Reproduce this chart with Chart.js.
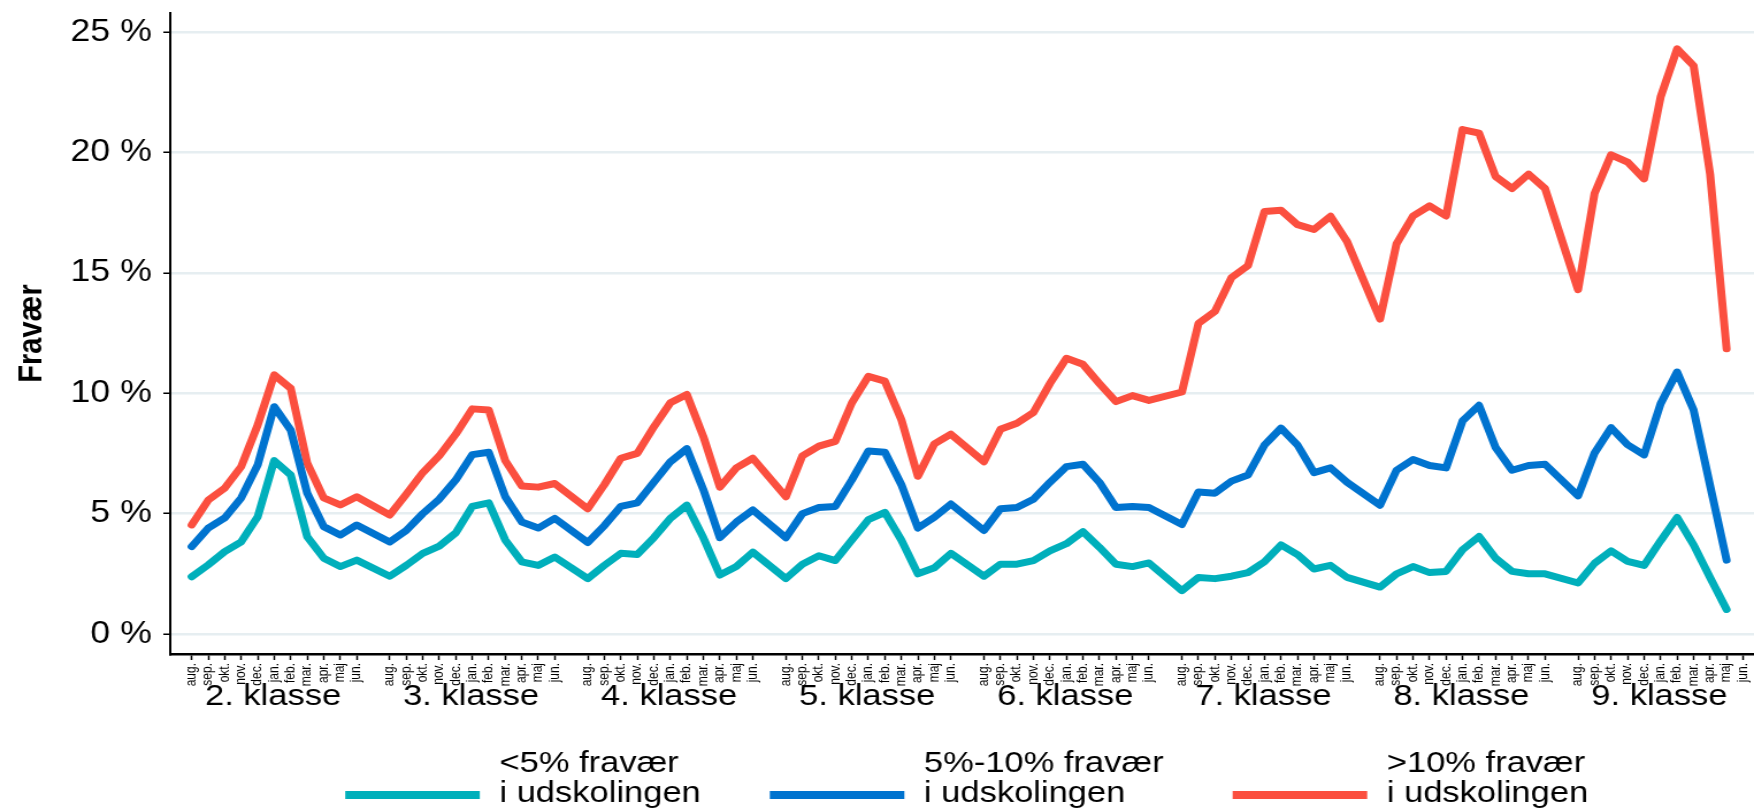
<!DOCTYPE html>
<html>
<head>
<meta charset="utf-8">
<script src="https://cdn.jsdelivr.net/npm/chart.js@4.4.1/dist/chart.umd.min.js"></script>
<style>
  html, body { margin: 0; padding: 0; background: #fff; overflow: hidden; }
  #wrap { position: absolute; left: 0; top: 0; width: 1525px; height: 810px; transform-origin: 0 0; }
  canvas { display: block; }
</style>
</head>
<body>
<div id="wrap"><canvas id="c" width="1525" height="810"></canvas></div>
<script>
// ---- data ----
const months = ['aug.', 'sep.', 'okt.', 'nov.', 'dec.', 'jan.', 'feb.', 'mar.', 'apr.', 'maj', 'jun.'];
const grades = ['2. klasse', '3. klasse', '4. klasse', '5. klasse', '6. klasse', '7. klasse', '8. klasse', '9. klasse'];
const yTicks = [0, 5, 10, 15, 20, 25];
const yTitle = 'Fravær';

const seriesLabels = [
  ['<5% fravær', 'i udskolingen'],
  ['5%-10% fravær', 'i udskolingen'],
  ['>10% fravær', 'i udskolingen']
];
const seriesColors = ['#00afbb', '#0073cf', '#fb4f3f'];

const lowAbsence = [
  2.38, 2.87, 3.42, 3.83, 4.87, 7.2, 6.6, 4.04, 3.15, 2.8, 3.07,
  2.4, 2.85, 3.35, 3.65, 4.2, 5.3, 5.45, 3.9, 3.0, 2.85, 3.2,
  2.3, 2.85, 3.35, 3.3, 4.0, 4.8, 5.35, 4.0, 2.45, 2.8, 3.4,
  2.3, 2.9, 3.25, 3.05, 3.9, 4.75, 5.05, 3.9, 2.5, 2.75, 3.35,
  2.4, 2.9, 2.9, 3.05, 3.45, 3.75, 4.25, 3.6, 2.9, 2.8, 2.95,
  1.8, 2.35, 2.3, 2.4, 2.55, 3.0, 3.7, 3.3, 2.7, 2.85, 2.35,
  1.95, 2.5, 2.8, 2.55, 2.6, 3.5, 4.05, 3.15, 2.6, 2.5, 2.5,
  2.12, 2.94, 3.45, 3.02, 2.85, 3.87, 4.84, 3.7, 2.34, 1.02, null
];
const midAbsence = [
  3.63, 4.4, 4.82, 5.65, 7.02, 9.44, 8.47, 5.85, 4.46, 4.11, 4.53,
  3.82, 4.3, 5.0, 5.6, 6.4, 7.45, 7.55, 5.7, 4.65, 4.4, 4.8,
  3.8, 4.5, 5.3, 5.45, 6.3, 7.15, 7.7, 6.0, 4.0, 4.65, 5.15,
  4.0, 5.0, 5.25, 5.3, 6.4, 7.6, 7.55, 6.2, 4.4, 4.85, 5.4,
  4.3, 5.2, 5.25, 5.6, 6.3, 6.95, 7.05, 6.3, 5.25, 5.3, 5.25,
  4.55, 5.9, 5.85, 6.35, 6.6, 7.85, 8.55, 7.85, 6.7, 6.9, 6.3,
  5.35, 6.8, 7.25, 7.0, 6.9, 8.85, 9.5, 7.75, 6.8, 7.0, 7.05,
  5.74, 7.52, 8.57, 7.86, 7.44, 9.56, 10.88, 9.3, 6.16, 3.07, null
];
const highAbsence = [
  4.53, 5.56, 6.06, 6.95, 8.68, 10.76, 10.2, 7.1, 5.65, 5.36, 5.7,
  4.94, 5.8, 6.7, 7.4, 8.3, 9.35, 9.3, 7.2, 6.15, 6.1, 6.25,
  5.2, 6.2, 7.3, 7.5, 8.6, 9.6, 9.95, 8.2, 6.1, 6.9, 7.3,
  5.7, 7.4, 7.8, 8.0, 9.6, 10.7, 10.5, 8.9, 6.55, 7.9, 8.3,
  7.15, 8.5, 8.75, 9.2, 10.4, 11.45, 11.2, 10.4, 9.65, 9.9, 9.7,
  10.05, 12.9, 13.4, 14.8, 15.3, 17.55, 17.6, 17.0, 16.8, 17.35, 16.3,
  13.08, 16.2, 17.36, 17.78, 17.36, 20.95, 20.8, 19.0, 18.5, 19.1, 18.5,
  14.3, 18.3, 19.9, 19.6, 18.9, 22.3, 24.3, 23.6, 19.1, 11.85, null
];

// ---- build ----
const SX = 1754 / 1525;
document.getElementById('wrap').style.transform = 'scaleX(' + SX + ')';

const SLOTS = 12; // aug..jul per school year; jul has no observation
const positions = [];
const tickLabelByPos = {};
grades.forEach((g, gi) => months.forEach((m, mi) => {
  const p = gi * SLOTS + mi;
  positions.push(p);
  tickLabelByPos[p] = m;
}));

function toPoints(arr) {
  return arr.map((v, i) => ({ x: positions[i], y: v })).filter(p => p.y !== null);
}
const allSeries = [lowAbsence, midAbsence, highAbsence];

const FONT = "'Liberation Sans', Arial, Helvetica, sans-serif";

function zeroPad(scale) {
  scale.paddingTop = 0; scale.paddingBottom = 0;
  scale.paddingLeft = 0; scale.paddingRight = 0;
}

const extrasPlugin = {
  id: 'extras',
  afterDraw(chart) {
    const ctx = chart.ctx;
    const xs = chart.scales.x;
    const area = chart.chartArea;
    ctx.save();
    // grade labels
    ctx.fillStyle = '#000';
    ctx.font = '30px ' + FONT;
    ctx.textAlign = 'center';
    ctx.textBaseline = 'alphabetic';
    grades.forEach((g, gi) => {
      const a = xs.getPixelForValue(gi * SLOTS);
      const b = xs.getPixelForValue(gi * SLOTS + months.length - 1);
      ctx.fillText(g, (a + b) / 2 - 1, 705);
    });
    // legend
    ctx.font = '30px ' + FONT;
    ctx.textAlign = 'left';
    const swLen = 117, swGap = 17, itemGap = 60;
    const widths = seriesLabels.map(lines => Math.max(...lines.map(t => ctx.measureText(t).width)));
    const itemW = widths.map(w => swLen + swGap + w);
    const total = itemW.reduce((s, w) => s + w, 0) + itemGap * (itemW.length - 1);
    let x = (area.left + area.right) / 2 - total / 2 + 4;
    seriesLabels.forEach((lines, i) => {
      ctx.strokeStyle = seriesColors[i];
      ctx.lineWidth = 8;
      ctx.lineCap = 'butt';
      ctx.beginPath();
      ctx.moveTo(x, 795);
      ctx.lineTo(x + swLen, 795);
      ctx.stroke();
      ctx.fillStyle = '#000';
      ctx.fillText(lines[0], x + swLen + swGap, 772);
      ctx.fillText(lines[1], x + swLen + swGap, 802);
      x += itemW[i] + itemGap;
    });
    ctx.restore();
  }
};

new Chart(document.getElementById('c'), {
  type: 'line',
  data: {
    datasets: allSeries.map((s, i) => ({
      label: seriesLabels[i].join(' '),
      data: toPoints(s),
      borderColor: seriesColors[i],
      backgroundColor: seriesColors[i],
      borderWidth: 7,
      pointRadius: 0,
      tension: 0,
      borderJoinStyle: 'round',
      borderCapStyle: 'round',
      fill: false
    }))
  },
  options: {
    responsive: false,
    animation: false,
    devicePixelRatio: 1,
    layout: { padding: { top: 13, left: 0, right: 0, bottom: 0 } },
    plugins: { legend: { display: false }, tooltip: { enabled: false } },
    scales: {
      x: {
        type: 'linear',
        min: -1.30,
        max: 94.66,
        afterBuildTicks(scale) { scale.ticks = positions.map(v => ({ value: v })); },
        afterFit(scale) { scale.height = 156; zeroPad(scale); },
        border: { display: true, color: '#000', width: 2.5 },
        grid: { display: true, drawOnChartArea: false, drawTicks: true, tickLength: 6, tickColor: '#000', tickWidth: 1.5 },
        ticks: {
          autoSkip: false,
          minRotation: 90,
          maxRotation: 90,
          padding: 3,
          color: '#000',
          font: { family: FONT, size: 12 },
          callback: (v) => tickLabelByPos[v] !== undefined ? tickLabelByPos[v] : ''
        }
      },
      y: {
        min: -0.83,
        max: 25.79,
        afterBuildTicks(scale) { scale.ticks = yTicks.map(v => ({ value: v })); },
        afterFit(scale) { scale.width = 148; zeroPad(scale); },
        border: { display: true, color: '#000', width: 2 },
        grid: { display: true, drawOnChartArea: true, color: '#e6eef1', lineWidth: 2.5, drawTicks: true, tickLength: 6, tickColor: '#000', tickWidth: 1.5 },
        ticks: {
          padding: 10,
          color: '#000',
          font: { family: FONT, size: 31 },
          callback: (v) => v + ' %'
        },
        title: {
          display: true,
          text: yTitle,
          color: '#000',
          font: { family: FONT, size: 29, weight: 'bold' },
          padding: { top: 11, bottom: 0 }
        }
      }
    }
  },
  plugins: [extrasPlugin]
});
</script>
</body>
</html>
